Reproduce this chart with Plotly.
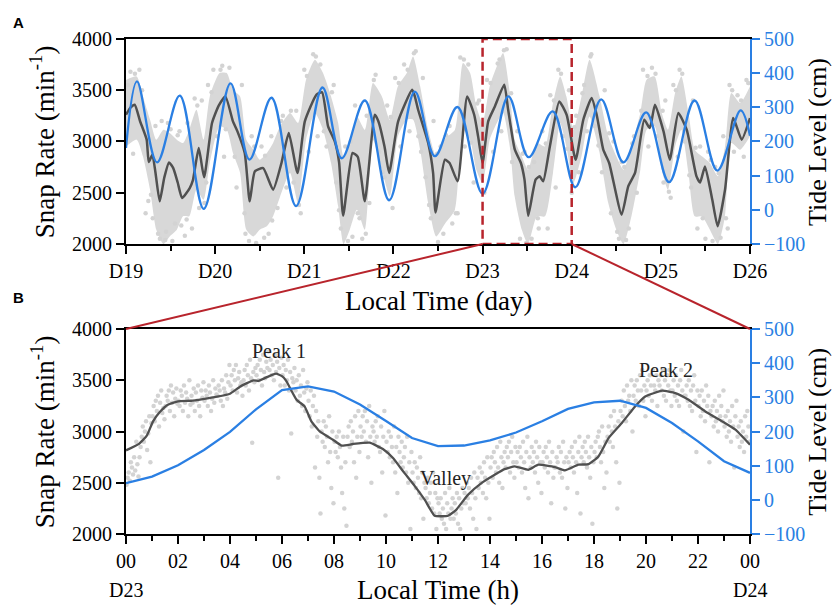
import plotly.graph_objects as go

SERIF = "Liberation Serif"
BLUE = "#2A7FE3"
DARK = "#505050"
DOT = "#D3D3D3"
RED = "#B8242C"

# ---- panel A : 7 days (day 0 = D19) ----
day_labels = ["D19", "D20", "D21", "D22", "D23", "D24", "D25", "D26"]

tide_day = [0, 0.123, 0.348, 0.603, 0.872, 1.172, 1.385, 1.632, 1.908, 2.204, 2.42, 2.679,
            2.952, 3.24, 3.465, 3.718, 4.0, 4.29, 4.517, 4.787, 5.04, 5.33, 5.58, 5.835,
            6.092, 6.378, 6.633, 6.895, 7.0]
tide_cm = [181, 376, 139, 334, 3, 370, 147, 328, 11, 358, 151, 320,
           28, 346, 157, 301, 47, 332, 154, 288, 66, 323, 139, 285,
           81, 320, 115, 291, 217]

rate_day = [0, 0.05, 0.098, 0.157, 0.232, 0.255, 0.296, 0.33, 0.378, 0.43, 0.483, 0.53,
            0.58, 0.629, 0.715, 0.75, 0.816, 0.876, 0.965, 1.04, 1.115, 1.2, 1.25, 1.332,
            1.388, 1.445, 1.539, 1.65, 1.744, 1.826, 1.924, 2.006, 2.137, 2.2, 2.267, 2.342,
            2.39, 2.436, 2.541, 2.6, 2.679, 2.791, 2.83, 2.9, 2.952, 3.053, 3.21, 3.24,
            3.277, 3.39, 3.445, 3.472, 3.577, 3.63, 3.72, 3.827, 3.906, 3.95, 4.0, 4.063,
            4.138, 4.243, 4.287, 4.362, 4.43, 4.47, 4.512, 4.595, 4.64, 4.68, 4.755, 4.86,
            4.943, 5.044, 5.13, 5.223, 5.28, 5.354, 5.42, 5.56, 5.634, 5.71, 5.814, 5.876,
            5.934, 6.03, 6.1, 6.196, 6.29, 6.4, 6.44, 6.495, 6.577, 6.637, 6.72, 6.812,
            6.906, 7.0]
rate_smooth = [3261, 3330, 3359, 3200, 3018, 2800, 2871, 2700, 2416, 2650, 2796, 2740,
               2600, 2449, 2546, 2620, 2936, 2650, 3180, 3350, 3440, 3196, 3099, 2888,
               2416, 2708, 2740, 2530, 2790, 3083, 2693, 3196, 3457, 3480, 3147, 3001,
               2800, 2276, 2888, 2850, 2416, 3261, 3200, 2950, 2693, 3196, 3505, 3440,
               3310, 2985, 2693, 2308, 2822, 2790, 2611, 3440, 3261, 3050, 2790, 3196,
               3342, 3554, 3310, 2920, 2790, 2630, 2276, 2627, 2660, 2611, 2952, 3391,
               3261, 2822, 3212, 3424, 3261, 2920, 2790, 2286, 2562, 2693, 3212, 3131,
               3359, 3099, 2822, 3278, 3115, 2660, 2600, 2757, 2432, 2172, 2530, 3229,
               3018, 3229]

# dense part of the raw snap-rate cloud (upper / lower edge)
cloud_day = [0, 0.12, 0.19, 0.27, 0.34, 0.42, 0.49, 0.57, 0.64, 0.71, 0.79, 0.87, 0.94,
             1.05, 1.13, 1.2, 1.28, 1.35, 1.43, 1.5, 1.58, 1.65, 1.73, 1.84, 1.93, 2.02,
             2.12, 2.21, 2.3, 2.38, 2.44, 2.51, 2.59, 2.68, 2.77, 2.87, 2.96, 3.05, 3.15,
             3.22, 3.3, 3.39, 3.48, 3.58, 3.69, 3.78, 3.86, 3.93, 4.0, 4.08, 4.16, 4.23,
             4.31, 4.36, 4.44, 4.51, 4.61, 4.7, 4.79, 4.87, 4.94, 5.02, 5.11, 5.2, 5.31,
             5.41, 5.5, 5.58, 5.67, 5.77, 5.84, 5.93, 6.01, 6.08, 6.16, 6.23, 6.31, 6.38,
             6.46, 6.55, 6.64, 6.72, 6.79, 6.89, 7.0]
cloud_hi = [3600, 3635, 3440, 3213, 3018, 3115, 3082, 3018, 2985, 3115, 3310, 3018, 3440,
            3668, 3668, 3505, 3440, 3018, 2920, 2822, 2887, 2985, 3150, 3278, 3180, 3603,
            3798, 3668, 3440, 3180, 2855, 2985, 3245, 3115, 3570, 3440, 3213, 3538, 3668,
            3830, 3538, 3115, 2855, 3030, 3115, 3765, 3668, 3343, 3180, 3538, 3733, 3863,
            3440, 3018, 2855, 2725, 2985, 2952, 3375, 3635, 3440, 3115, 3440, 3798, 3450,
            3050, 2855, 2725, 2952, 3278, 3603, 3635, 3278, 3115, 3473, 3635, 3278, 2920,
            2855, 2790, 2660, 2952, 3473, 3375, 3538]
cloud_lo = [2950, 3018, 2855, 2530, 2139, 2000, 2074, 2139, 2270, 2270, 2530, 2432, 2790,
            3148, 3115, 2887, 2692, 2139, 2074, 2139, 2172, 2270, 2465, 2692, 2400, 3018,
            3278, 3115, 2790, 2367, 2000, 2139, 2335, 2139, 3018, 2725, 2465, 3050, 3213,
            3213, 2920, 2400, 2074, 2200, 2335, 3115, 3018, 2725, 2595, 3018, 3180, 3278,
            2920, 2465, 2139, 2000, 2270, 2270, 2692, 3180, 2952, 2595, 2855, 3245, 2900,
            2400, 2139, 2000, 2270, 2725, 3115, 3148, 2725, 2530, 2952, 3115, 2692, 2270,
            2270, 2139, 2000, 2270, 2985, 2920, 3050]

# scattered raw points around the dense part
fringe_day = [0.05, 0.08, 0.15, 0.22, 0.25, 0.3, 0.33, 0.38, 0.4, 0.45, 0.47, 0.52, 0.55,
              0.6, 0.62, 0.66, 0.69, 0.74, 0.77, 0.82, 0.85, 0.9, 0.92, 0.98, 1.02, 1.08,
              1.1, 1.16, 1.24, 1.3, 1.33, 1.38, 1.41, 1.46, 1.52, 1.55, 1.6, 1.63, 1.7,
              1.76, 1.8, 1.88, 1.91, 1.96, 2.0, 2.05, 2.1, 2.15, 2.18, 2.25, 2.33, 2.36,
              2.41, 2.46, 2.49, 2.54, 2.57, 2.62, 2.65, 2.7, 2.73, 2.8, 2.84, 2.9, 2.93,
              2.99, 3.02, 3.08, 3.12, 3.18, 3.25, 3.28, 3.33, 3.36, 3.42, 3.45, 3.5, 3.53,
              3.56, 3.63, 3.66, 3.72, 3.75, 3.8, 3.84, 3.9, 3.96, 4.02, 4.05, 4.12, 4.19,
              4.21, 4.27, 4.33, 4.39, 4.42, 4.47, 4.49, 4.55, 4.58, 4.63, 4.67, 4.73, 4.76,
              4.82, 4.85, 4.9, 4.97, 5.0, 5.05, 5.08, 5.14, 5.17,
              5.22, 5.26, 5.34, 5.37, 5.44, 5.47, 5.53, 5.56, 5.61, 5.64, 5.7, 5.73, 5.8,
              5.86, 5.9, 5.96, 6.03, 6.05, 6.11, 6.14, 6.19, 6.21, 6.27, 6.34, 6.36, 6.41,
              6.44, 6.5, 6.53, 6.58, 6.61, 6.67, 6.7, 6.75, 6.77, 6.82, 6.86, 6.93, 6.96,
              0.02, 0.1, 0.18, 0.28, 0.36, 0.44, 0.5, 0.58, 0.68, 0.8, 0.88, 0.96, 1.06,
              1.12, 1.22, 1.34, 1.44, 1.56, 1.64, 1.74, 1.85, 1.94, 2.03, 2.13, 2.22, 2.31,
              2.39, 2.52, 2.6, 2.69, 2.78, 2.88, 2.97, 3.06, 3.16, 3.23, 3.31, 3.4, 3.49,
              3.59, 3.7, 3.79, 3.87, 3.94, 4.09, 4.17, 4.24, 4.32, 4.45, 4.52, 4.62, 4.71,
              4.8, 4.88, 4.95, 5.03, 5.12, 5.21, 5.3, 5.42, 5.51, 5.59, 5.68, 5.78, 5.85,
              5.94, 6.02, 6.09, 6.17, 6.24, 6.32, 6.39, 6.47, 6.56, 6.65, 6.73, 6.8, 6.9,
              6.98]
fringe_rate = [3680, 2880, 3700, 2300, 2420, 2250, 3150, 2050, 3200, 2120, 3180, 2030, 2200,
               3100, 2180, 2080, 3180, 2150, 3420, 2350, 3400, 2600, 3550, 3700, 3050, 3740,
               2850, 3720, 2550, 3550, 2300, 2030, 3050, 2010, 2950, 2060, 2100, 3050, 2350,
               3250, 2550, 2600, 3300, 2300, 3700, 2900, 3850, 3050, 3750, 2950, 3550, 2600,
               2150, 2950, 2030, 2070, 3350, 2250, 2050, 3250, 2400, 3650, 2900, 2650, 3350,
               2350, 3620, 2950, 3750, 3100, 3880, 3050, 3620, 2650, 2250, 3200, 2020, 2950,
               2100, 3150, 2200, 2300, 3820, 2950, 3750, 2600, 3400, 2500, 3600, 2900, 3800,
               3100, 3900, 2800, 3100, 2050, 2900, 2010, 2050, 2800, 2150, 3100, 2150, 3450,
               2550, 3700, 3050, 3500, 2500, 3250, 2700, 3550, 3100,
               3850, 3150, 2700, 3500, 2300, 3000, 2050, 2800, 2040, 2150, 3050, 2500, 3700,
               2950, 3720, 3050, 2600, 3400, 2450, 3550, 2850, 3700, 3000, 2550, 3400, 2150,
               2950, 2050, 2900, 2030, 2750, 2060, 3050, 2150, 3550, 2900, 3450, 2850, 3600,
               3550, 3660, 3500, 2480, 2100, 2040, 3120, 3060, 2240, 3350, 2400, 3480, 3700,
               3120, 2850, 2100, 2950, 2860, 2230, 3200, 3300, 2380, 3640, 3830, 3100, 3480,
               2330, 3000, 2300, 2100, 3600, 2700, 3240, 3570, 3700, 3860, 2900, 2380, 2880,
               3060, 2300, 3800, 2990, 3370, 3570, 3760, 3890, 3470, 2880, 2750, 2250, 2980,
               3400, 3660, 2930, 3140, 3470, 3830, 2960, 3080, 2120, 2750, 2980, 3300, 3640,
               3660, 3300, 2510, 3500, 3660, 2670, 2940, 2250, 2820, 2690, 2250, 3500, 3400,
               3570]

# ---- panel B : D23 00h to D24 00h ----
hour_ticks = list(range(0, 25, 2))
tide_hour = list(range(25))
tide_b = [49, 68, 101, 146, 199, 265, 321, 332, 317, 279, 231, 181, 157, 159, 174, 197,
          230, 266, 285, 290, 269, 225, 171, 113, 79]

rate_b_hour = [0, 0.5, 0.8, 1.04, 1.3, 1.61, 2.0, 2.5, 2.96, 3.5, 4.0, 4.4, 4.9, 5.1, 5.4,
               5.77, 6.0, 6.15, 6.56, 6.87, 7.13, 7.45, 7.96, 8.3, 8.73, 9.37, 9.88, 10.27,
               10.66, 11.1, 11.5, 11.87, 12.39, 12.7, 13.15, 13.67, 14.18, 14.56, 14.95,
               15.47, 15.86, 16.5, 16.88, 17.4, 17.79, 18.17, 18.56, 19.07, 19.58, 19.97,
               20.62, 21.13, 21.64, 22.28, 22.93, 23.44, 24]
rate_b = [2816, 2880, 2960, 3099, 3190, 3261, 3294, 3300, 3317, 3340, 3369, 3440, 3499,
          3495, 3528, 3564, 3540, 3499, 3310, 3245, 3099, 3001, 2920, 2862, 2878, 2891,
          2829, 2741, 2611, 2470, 2330, 2178, 2178, 2236, 2382, 2497, 2578, 2633, 2660,
          2627, 2676, 2653, 2621, 2676, 2682, 2757, 2936, 3083, 3245, 3342, 3398, 3375,
          3310, 3196, 3099, 3018, 2871]

# raw snap rates, one list per half hour
snaps_b = [
    [2480, 2550, 2600, 2520, 2700, 2650, 2580, 2750, 2620, 2900, 2680, 2560],
    [2750, 2850, 2950, 3050, 2900, 3000, 3100, 2820, 2980, 3150, 2700, 3080],
    [3150, 3250, 3100, 3300, 3200, 3350, 3050, 3280, 3400, 3180, 3230, 3120],
    [3250, 3350, 3300, 3400, 3200, 3450, 3280, 3380, 3150, 3320, 3420, 3270],
    [3300, 3250, 3400, 3350, 3200, 3450, 3280, 3380, 3320, 3150, 3500, 3260],
    [3350, 3280, 3420, 3200, 3380, 3300, 3450, 3250, 3150, 3400, 3330, 3480],
    [3300, 3400, 3350, 3250, 3450, 3380, 3200, 3320, 3500, 3280, 3420, 3360],
    [3350, 3450, 3400, 3300, 3500, 3250, 3420, 3380, 3550, 3320, 3480, 3650],
    [3450, 3550, 3400, 3600, 3500, 3650, 3380, 3520, 3580, 3450, 3480, 3350],
    [3500, 3600, 3450, 3650, 3550, 3400, 3700, 3520, 2890, 3580, 3480, 3620],
    [3550, 3650, 3500, 3700, 3600, 3450, 3750, 3580, 3520, 3680, 3620, 3780],
    [3600, 3700, 3550, 3650, 3500, 3750, 3580, 3680, 2550, 3620, 3450, 3720],
    [3550, 3650, 3450, 3600, 3500, 3700, 3400, 3580, 2980, 3520, 3480, 3620],
    [3400, 3500, 3300, 3550, 3350, 3450, 3250, 3600, 3380, 3200, 3420, 3480],
    [3300, 3150, 3400, 3050, 3250, 3350, 2650, 3200, 2950, 3100, 2550, 2200],
    [3000, 2900, 3100, 2850, 3050, 2950, 2700, 3150, 2800, 2450, 3000, 2300],
    [2900, 2800, 2950, 2750, 3000, 2850, 2650, 2400, 2950, 2250, 2700, 2080],
    [2950, 3050, 2850, 3100, 2900, 3000, 2700, 3150, 2550, 2950, 3200, 2800],
    [3050, 2950, 3150, 3000, 3200, 2900, 3100, 2750, 3250, 2950, 2500, 3050],
    [3000, 2900, 3100, 2950, 3150, 2850, 2800, 3050, 2600, 2950, 3200, 2180],
    [2900, 2800, 3000, 2750, 2950, 2850, 2700, 3050, 2600, 2850, 2400, 2950],
    [2800, 2700, 2900, 2650, 2750, 2850, 2600, 2950, 2500, 2700, 2050, 2800],
    [2600, 2500, 2700, 2450, 2650, 2550, 2400, 2750, 2350, 2600, 2150, 2500],
    [2450, 2350, 2550, 2300, 2400, 2500, 2250, 2600, 2200, 2400, 2050, 2350],
    [2300, 2200, 2350, 2150, 2250, 2100, 2400, 2050, 2300, 2200, 2450, 2150],
    [2250, 2350, 2150, 2300, 2200, 2400, 2100, 2350, 2050, 2250, 2450, 2300],
    [2400, 2300, 2500, 2350, 2450, 2250, 2550, 2400, 2150, 2600, 2350, 2050],
    [2550, 2450, 2650, 2500, 2600, 2400, 2700, 2550, 2350, 2750, 2500, 2150],
    [2650, 2750, 2550, 2800, 2700, 2600, 2850, 2650, 2500, 2900, 2750, 2450],
    [2700, 2800, 2650, 2850, 2750, 2900, 2600, 2800, 2950, 2700, 2550, 2850],
    [2700, 2800, 2650, 2850, 2750, 2600, 2900, 2700, 2450, 2800, 2950, 2350],
    [2750, 2650, 2850, 2700, 2800, 2600, 2900, 2750, 2500, 2850, 2700, 2400],
    [2700, 2800, 2650, 2850, 2750, 2600, 2900, 2700, 2300, 2800, 2550, 2650],
    [2650, 2750, 2700, 2850, 2600, 2800, 2550, 2900, 2700, 2250, 2750, 2450],
    [2700, 2800, 2650, 2850, 2750, 2600, 2900, 2700, 2400, 2800, 2950, 2200],
    [2750, 2850, 2700, 2900, 2800, 2650, 2950, 2750, 2550, 2850, 2100, 2700],
    [2800, 2900, 2750, 2950, 3000, 2850, 2700, 3050, 2800, 2450, 2900, 2600],
    [2950, 3050, 2900, 3150, 3000, 2850, 3200, 3050, 2700, 2250, 3100, 2500],
    [3200, 3300, 3150, 3400, 3250, 3100, 3450, 3300, 3350, 3200, 3500, 3000],
    [3350, 3450, 3300, 3500, 3400, 3250, 3550, 3400, 3600, 3300, 3450, 3150],
    [3400, 3500, 3350, 3550, 3450, 3300, 3600, 3450, 3400, 3550, 3250, 3500],
    [3450, 3550, 3400, 3600, 3350, 3500, 3300, 3550, 3450, 3600, 3400, 3250],
    [3400, 3500, 3350, 3550, 3300, 3450, 3250, 3500, 3600, 3400, 3000, 3350],
    [3350, 3450, 3300, 3500, 3250, 3400, 3200, 3450, 3550, 3300, 2800, 3400],
    [3250, 3350, 3150, 3400, 3200, 3300, 3100, 3450, 3250, 3350, 2700, 3200],
    [3150, 3250, 3050, 3300, 3100, 3200, 3000, 3350, 3150, 3250, 3100, 3400],
    [3050, 3150, 2950, 3200, 3000, 3100, 2900, 3250, 3050, 2650, 3150, 3300],
    [2950, 3050, 2850, 3100, 2900, 3000, 2800, 3150, 2950, 3200, 3050, 2900],
]

# sample times within each half-hour bin
snap_hour, snap_val = [], []
for i, vals in enumerate(snaps_b):
    for k, v in enumerate(vals):
        snap_hour.append(i * 0.5 + (k + 0.5) * 0.5 / len(vals))
        snap_val.append(v)

fig = go.Figure()

# panel A
fig.add_trace(go.Scatter(x=cloud_day, y=cloud_lo, mode="lines", line=dict(width=0, shape="spline", smoothing=0.6),
                         xaxis="x", yaxis="y", hoverinfo="skip"))
fig.add_trace(go.Scatter(x=cloud_day, y=cloud_hi, mode="lines", line=dict(width=0, shape="spline", smoothing=0.6),
                         fill="tonexty", fillcolor="#D8D8D8", xaxis="x", yaxis="y", hoverinfo="skip"))
fig.add_trace(go.Scatter(x=fringe_day, y=fringe_rate, mode="markers", marker=dict(size=4.5, color=DOT),
                         xaxis="x", yaxis="y"))
fig.add_trace(go.Scatter(x=rate_day, y=rate_smooth, mode="lines",
                         line=dict(color=DARK, width=2.5, shape="spline", smoothing=0.5), xaxis="x", yaxis="y"))
fig.add_trace(go.Scatter(x=tide_day, y=tide_cm, mode="lines",
                         line=dict(color=BLUE, width=2.3, shape="spline", smoothing=1.0), xaxis="x", yaxis="y2"))

# panel B
fig.add_trace(go.Scatter(x=snap_hour, y=snap_val, mode="markers", marker=dict(size=4.5, color=DOT),
                         xaxis="x2", yaxis="y3"))
fig.add_trace(go.Scatter(x=rate_b_hour, y=rate_b, mode="lines",
                         line=dict(color=DARK, width=2.3, shape="spline", smoothing=0.4), xaxis="x2", yaxis="y3"))
fig.add_trace(go.Scatter(x=tide_hour, y=tide_b, mode="lines", line=dict(color=BLUE, width=2.3),
                         xaxis="x2", yaxis="y4"))

tickfont = dict(family=SERIF, size=20, color="black")
bluefont = dict(family=SERIF, size=20, color=BLUE)
dom_a = [0.5859, 1.0]
dom_b = [0.0, 0.4141]

xcommon = dict(showline=True, linecolor="black", linewidth=2, mirror=True, ticks="outside",
               ticklen=8, tickwidth=1.8, tickcolor="black", showgrid=False, zeroline=False,
               tickfont=tickfont)
ycommon = dict(showline=True, linecolor="black", linewidth=2, ticks="outside", ticklen=8,
               tickwidth=1.8, tickcolor="black", showgrid=False, zeroline=False,
               range=[2000, 4000], tickvals=[2000, 2500, 3000, 3500, 4000], tickfont=tickfont)
ycommon_r = dict(showline=True, linecolor=BLUE, linewidth=2, ticks="outside", ticklen=8,
                 tickwidth=1.8, tickcolor=BLUE, showgrid=False, zeroline=False, side="right",
                 range=[-100, 500], tickvals=list(range(-100, 501, 100)), tickfont=bluefont)

fig.update_layout(
    width=835, height=605, showlegend=False,
    paper_bgcolor="white", plot_bgcolor="white",
    margin=dict(l=126, r=85, t=39, b=71),
    xaxis=dict(xcommon, domain=[0, 1], anchor="y", range=[0, 7], tickvals=list(range(8)),
               ticktext=day_labels,
               minor=dict(dtick=0.5, tick0=0, ticks="outside", ticklen=5, tickcolor="black", tickwidth=1.5)),
    yaxis=dict(ycommon, domain=dom_a, anchor="x"),
    yaxis2=dict(ycommon_r, overlaying="y", anchor="x"),
    xaxis2=dict(xcommon, domain=[0, 1], anchor="y3", range=[0, 24], tickvals=hour_ticks,
                ticktext=["%02d" % (h % 24) for h in hour_ticks],
                minor=dict(dtick=1, tick0=0, ticks="outside", ticklen=5, tickcolor="black", tickwidth=1.5)),
    yaxis3=dict(ycommon, domain=dom_b, anchor="x2"),
    yaxis4=dict(ycommon_r, overlaying="y3", anchor="x2"),
)

# zoom window and connector lines
fig.add_shape(type="rect", xref="x", yref="y", x0=4, x1=5, y0=2000, y1=4000,
              line=dict(color=RED, width=2.5, dash="9px,5px"), layer="above")
fig.add_shape(type="line", xref="paper", yref="paper", x0=4 / 7, y0=dom_a[0], x1=0, y1=dom_b[1],
              line=dict(color=RED, width=2))
fig.add_shape(type="line", xref="paper", yref="paper", x0=5 / 7, y0=dom_a[0], x1=1, y1=dom_b[1],
              line=dict(color=RED, width=2))

title_font = dict(family=SERIF, size=27, color="black")
right_font = dict(family=SERIF, size=26, color="black")
ann = [
    dict(text="Snap Rate (min<sup>-1</sup>)", x=-0.134, y=0.792, textangle=-90, font=title_font),
    dict(text="Snap Rate (min<sup>-1</sup>)", x=-0.134, y=0.2065, textangle=-90, font=title_font),
    dict(text="Tide Level (cm)", x=1.109, y=0.792, textangle=-90, font=right_font),
    dict(text="Tide Level (cm)", x=1.109, y=0.2065, textangle=-90, font=right_font),
    dict(text="Local Time (day)", x=0.5, y=0.4707, font=title_font),
    dict(text="Local Time (h)", x=0.5, y=-0.1131, font=title_font),
]
for a in ann:
    fig.add_annotation(xref="paper", yref="paper", showarrow=False,
                       xanchor="center", yanchor="middle", **a)

for txt, xp in [("D23", 0.0), ("D24", 1.0)]:
    fig.add_annotation(text=txt, xref="paper", yref="paper", x=xp, y=-0.1131, showarrow=False,
                       font=tickfont, xanchor="center", yanchor="middle")

for txt, yp in [("A", 1.0343), ("B", 0.4768)]:
    fig.add_annotation(text="<b>%s</b>" % txt, xref="paper", yref="paper", x=-0.1715, y=yp,
                       showarrow=False, font=dict(family="Liberation Sans", size=15, color="black"),
                       xanchor="center", yanchor="middle")

for txt, hx, ry in [("Peak 1", 5.9, 3781), ("Valley", 12.3, 2546), ("Peak 2", 20.78, 3603)]:
    fig.add_annotation(text=txt, x=hx, y=ry, xref="x2", yref="y3", showarrow=False,
                       font=dict(family=SERIF, size=20, color="#222222"))

# page body margin would shift the figure inside the window
fig.write_html("out.html", config={"displayModeBar": False},
               post_script="document.body.style.margin='0px';")
